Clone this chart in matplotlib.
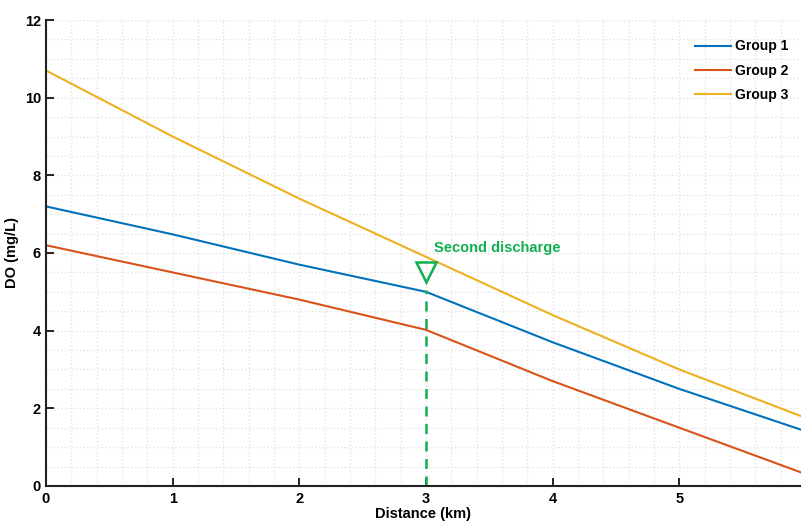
import matplotlib
matplotlib.use("Agg")
import matplotlib.pyplot as plt
import numpy as np

distance = [0, 1, 2, 3, 4, 5, 5.96]
group1 = [7.2, 6.48, 5.7, 5.0, 3.7, 2.5, 1.45]
group2 = [6.2, 5.5, 4.8, 4.02, 2.7, 1.5, 0.35]
group3 = [10.7, 9.0, 7.4, 5.9, 4.4, 3.0, 1.8]
labels = ["Group 1", "Group 2", "Group 3"]
colors = ["#0072BD", "#D95319", "#EDB120"]
discharge_x = 3
discharge_top = 5.05
marker_y = 5.5

plt.rcParams['font.family'] = ['Liberation Sans', 'DejaVu Sans']
plt.rcParams['font.weight'] = 'bold'

fig = plt.figure(figsize=(8.01, 5.25), dpi=100)
ax = fig.add_axes([0.0574, 0.0743, 0.9426, 0.8876])

for y, lab, c in zip([group1, group2, group3], labels, colors):
    ax.plot(distance, y, color=c, lw=1.5, label=lab)

green = "#10B050"
ax.plot([discharge_x, discharge_x], [0, discharge_top], color=green, lw=1.8, ls=(0, (4, 3)))
ax.plot([discharge_x], [marker_y], marker='v', ms=14, mfc='none', mec=green, mew=1.8, ls='none')
ax.text(3.06, 5.95, "Second discharge", color=green, fontsize=10.5, fontweight='bold',
        va='bottom', ha='left')

ax.set_xlim(0, 5.96)
ax.set_ylim(0, 12)
ax.set_xticks([0, 1, 2, 3, 4, 5])
ax.set_yticks([0, 2, 4, 6, 8, 10, 12])
ax.set_xticks(np.arange(0, 6, 0.2), minor=True)
ax.set_yticks(np.arange(0, 12.01, 0.5), minor=True)
ax.grid(which='both', color='#e2e2e2', ls=':', lw=1.0)
ax.tick_params(which='major', direction='in', length=6, width=1.2, labelsize=10.5)
ax.tick_params(which='minor', length=0)
ax.tick_params(axis='x', pad=4)
for s in ['top', 'right']:
    ax.spines[s].set_visible(False)
for s in ['left', 'bottom']:
    ax.spines[s].set_linewidth(1.5)
    ax.spines[s].set_color('#222222')
ax.set_xlabel("Distance (km)", fontsize=10.5, fontweight='bold', labelpad=1)
ax.set_ylabel("DO (mg/L)", fontsize=10.5, fontweight='bold', labelpad=4)
leg = ax.legend(loc='upper right', frameon=False, fontsize=10, handlelength=2.6,
                handletextpad=0.3, labelspacing=0.75, bbox_to_anchor=(1.0, 0.985))
fig.savefig("out.png", dpi=100)
